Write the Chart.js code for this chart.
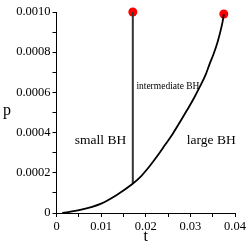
<!DOCTYPE html>
<html>
<head>
<meta charset="utf-8">
<script src="https://cdn.jsdelivr.net/npm/chart.js@4/dist/chart.umd.min.js"></script>
<style>
  html, body { margin: 0; padding: 0; background: #fff; }
  canvas { display: block; }
</style>
</head>
<body>
<canvas id="phaseChart" width="249" height="249"></canvas>
<script>
// coexistence curve
const curveT = [0.0013, 0.0053, 0.0100, 0.0135, 0.0170, 0.0187, 0.0209, 0.0225, 0.0243, 0.0261, 0.0276, 0.0292, 0.0307, 0.0321, 0.0335, 0.0343, 0.0352, 0.0361, 0.0368, 0.03725, 0.0375];
const curveP = [0, 0.000015, 0.000047, 0.00009, 0.000144, 0.000177, 0.000234, 0.000281, 0.000338, 0.000396, 0.00045, 0.00051, 0.000567, 0.000627, 0.000692, 0.000741, 0.000791, 0.000851, 0.00091, 0.000955, 0.00099];

// vertical small/intermediate boundary
const lineT = [0.0171, 0.0171];
const lineP = [0.000146, 0.001];

// red end points
const dotT = [0.0171, 0.0375];
const dotP = [0.001, 0.00099];

// region labels
const labelText = ["small BH", "large BH", "intermediate BH"];
const labelT = [0.0041, 0.0292, 0.0179];
const labelP = [0.000363, 0.000363, 0.000627];
const labelSize = [13.5, 13.5, 9.5];

const SERIF = "'Liberation Serif', 'Times New Roman', serif";

function toPoints(xs, ys) {
    return xs.map((x, i) => ({ x: x, y: ys[i] }));
}

/* Draw region labels and axis names as canvas text */
const textPlugin = {
    id: "textPlugin",
    afterDatasetsDraw(chart) {
        const ctx = chart.ctx;
        const xs = chart.scales.x;
        const ys = chart.scales.y;
        ctx.save();
        ctx.fillStyle = "#000";
        ctx.textBaseline = "middle";
        ctx.textAlign = "left";
        for (let i = 0; i < labelText.length; i++) {
            ctx.font = labelSize[i] + "px " + SERIF;
            ctx.fillText(labelText[i], xs.getPixelForValue(labelT[i]), ys.getPixelForValue(labelP[i]));
        }
        // axis names
        ctx.font = "16px " + SERIF;
        ctx.textAlign = "center";
        ctx.fillText("p", 7, ys.getPixelForValue(0.00051));
        ctx.fillText("t", (xs.left + xs.right) / 2, 237);
        ctx.restore();
    }
};

const axisGrid = {
    display: true,
    drawOnChartArea: false,
    drawTicks: true,
    tickLength: 4,
    color: "#000"
};

const ctx = document.getElementById("phaseChart").getContext("2d");
new Chart(ctx, {
    type: "scatter",
    data: {
        datasets: [
            {
                data: toPoints(curveT, curveP),
                showLine: true,
                borderColor: "#000",
                borderWidth: 1.8,
                pointRadius: 0,
                cubicInterpolationMode: "monotone",
                clip: false
            },
            {
                data: toPoints(lineT, lineP),
                showLine: true,
                borderColor: "#333",
                borderWidth: 2,
                pointRadius: 0,
                clip: false
            },
            {
                data: toPoints(dotT, dotP),
                showLine: false,
                pointRadius: 4.5,
                pointBackgroundColor: "#ff0000",
                pointBorderWidth: 0,
                clip: false
            }
        ]
    },
    options: {
        responsive: false,
        devicePixelRatio: 1,
        animation: false,
        layout: { padding: { top: 12, right: 14, left: 0, bottom: 0 } },
        plugins: {
            legend: { display: false },
            tooltip: { enabled: false }
        },
        scales: {
            x: {
                type: "linear",
                min: 0,
                max: 0.04,
                grid: axisGrid,
                border: { display: true, color: "#000", width: 1 },
                ticks: {
                    stepSize: 0.005,
                    autoSkip: false,
                    maxRotation: 0,
                    padding: 2,
                    color: "#000",
                    font: { family: SERIF, size: 12.5 },
                    callback: (v) => {
                        const n = Math.round(v / 0.005);
                        if (n % 2 !== 0) return "";
                        return n === 0 ? "0" : (n * 0.005).toFixed(2);
                    }
                },
                afterFit: (scale) => { scale.height = 36; }
            },
            y: {
                type: "linear",
                min: 0,
                max: 0.001,
                grid: axisGrid,
                border: { display: true, color: "#000", width: 1 },
                ticks: {
                    stepSize: 0.0001,
                    autoSkip: false,
                    padding: 2,
                    color: "#000",
                    font: { family: SERIF, size: 12.5 },
                    callback: (v) => {
                        const n = Math.round(v / 0.0001);
                        if (n % 2 !== 0) return "";
                        return n === 0 ? "0" : (n * 0.0001).toFixed(4);
                    }
                },
                afterFit: (scale) => { scale.width = 56.5; }
            }
        }
    },
    plugins: [textPlugin]
});
</script>
</body>
</html>
